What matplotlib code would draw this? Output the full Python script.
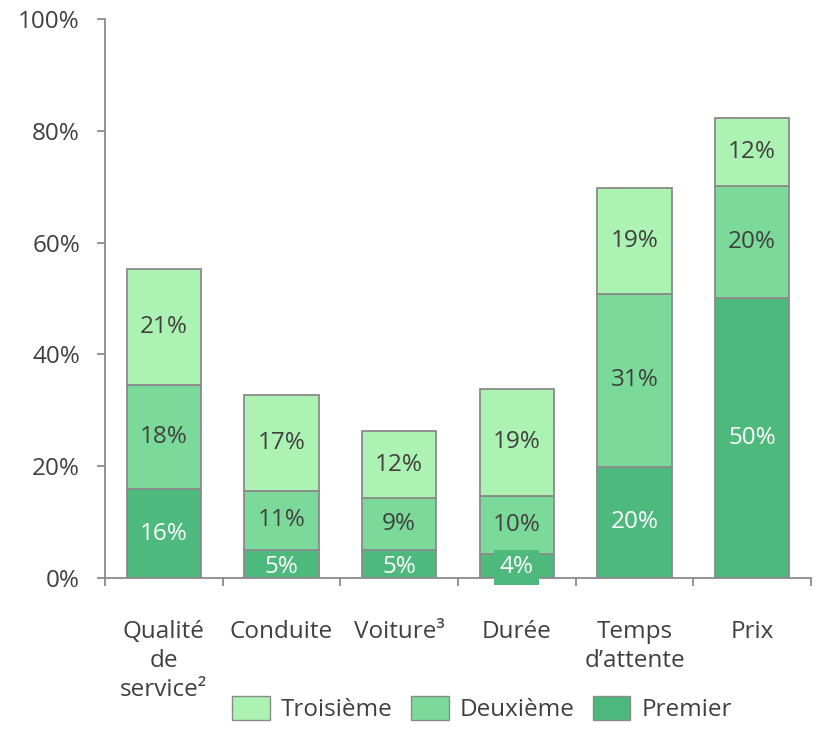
import matplotlib
matplotlib.use("Agg")
import matplotlib.pyplot as plt
import numpy as np
from matplotlib.patches import Patch

categories = ["Qualité\nde\nservice²", "Conduite", "Voiture³", "Durée", "Temps\nd’attente", "Prix"]
premier = [15.9, 5.0, 5.0, 4.3, 19.9, 50.1]
deuxieme = [18.6, 10.6, 9.3, 10.4, 30.9, 20.0]
troisieme = [20.8, 17.1, 12.0, 19.1, 19.0, 12.2]
lab_premier = ["16%", "5%", "5%", "4%", "20%", "50%"]
lab_deuxieme = ["18%", "11%", "9%", "10%", "31%", "20%"]
lab_troisieme = ["21%", "17%", "12%", "19%", "19%", "12%"]
yticks = [0, 20, 40, 60, 80, 100]
ytick_labels = ["0%", "20%", "40%", "60%", "80%", "100%"]

plt.rcParams['font.family'] = ['Open Sans', 'DejaVu Sans']

c3 = "#abf2b3"
c2 = "#7bda9a"
c1 = "#4db97c"
edge = "#8a8a8a"
dark = "#404040"

fig = plt.figure(figsize=(8.17, 7.48), dpi=100)
ax = fig.add_axes([105/817, 1-578/748, 706/817, 559/748])

x = np.arange(len(categories))
w = 0.63
p = np.array(premier); d = np.array(deuxieme); t = np.array(troisieme)
ax.bar(x, p, w, color=c1, edgecolor=edge, linewidth=1.3, zorder=2)
ax.bar(x, d, w, bottom=p, color=c2, edgecolor=edge, linewidth=1.3, zorder=2)
ax.bar(x, t, w, bottom=p+d, color=c3, edgecolor=edge, linewidth=1.3, zorder=2)

fs = 17.5
for i in range(len(x)):
    small = p[i] < 8
    ax.text(x[i], p[i]/2 if not small else 1.9, lab_premier[i], ha="center", va="center",
            color="white", fontsize=fs, zorder=4,
            bbox=dict(boxstyle="square,pad=0.22", fc=c1, ec="none") if p[i] < 5 else None)
    ax.text(x[i], p[i]+d[i]/2, lab_deuxieme[i], ha="center", va="center", color=dark, fontsize=fs, zorder=4)
    ax.text(x[i], p[i]+d[i]+t[i]/2, lab_troisieme[i], ha="center", va="center", color=dark, fontsize=fs, zorder=4)

ax.set_xlim(-0.5, len(x)-0.5)
ax.set_ylim(0, 100)
ax.set_yticks(yticks)
ax.set_yticklabels(ytick_labels, fontsize=fs, color=dark)
ax.set_xticks(np.arange(-0.5, len(x)+0.5, 1.0))
ax.set_xticklabels([])
ax.set_xticks(x, minor=True)
ax.set_xticklabels(categories, minor=True, fontsize=fs, color=dark, linespacing=1.3)
ax.tick_params(axis="x", which="minor", length=0, pad=30)
ax.tick_params(axis="x", which="major", length=6, color=edge, width=1.3)
ax.tick_params(axis="y", length=6, color=edge, width=1.3, pad=12)
for s in ["top", "right"]:
    ax.spines[s].set_visible(False)
for s in ["left", "bottom"]:
    ax.spines[s].set_color(edge)
    ax.spines[s].set_linewidth(1.3)

handles = [Patch(facecolor=c3, edgecolor=edge, label="Troisième"),
           Patch(facecolor=c2, edgecolor=edge, label="Deuxième"),
           Patch(facecolor=c1, edgecolor=edge, label="Premier")]
leg = fig.legend(handles=handles, loc="center", bbox_to_anchor=(482/817, 1-709/748), ncol=3,
                 frameon=False, fontsize=fs, handlelength=1.55, handleheight=1.15,
                 columnspacing=0.75, handletextpad=0.45)
for txt in leg.get_texts():
    txt.set_color(dark)

fig.savefig("out.png", dpi=100)
